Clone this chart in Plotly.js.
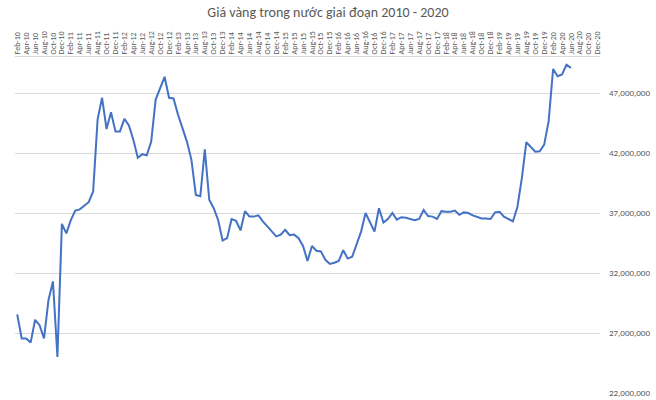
<!DOCTYPE html>
<html>
<head>
<meta charset="utf-8">
<script src="https://cdn.plot.ly/plotly-3.0.1.min.js"></script>
<style>
  html, body { margin: 0; padding: 0; background: #fff; }
  #chart { width: 656px; height: 400px; }
</style>
</head>
<body>
<div id="chart"></div>
<script>
// month names and years used for the category labels (Feb-10 .. Dec-20)
var monthNames = ['Jan', 'Feb', 'Mar', 'Apr', 'May', 'Jun', 'Jul', 'Aug', 'Sep', 'Oct', 'Nov', 'Dec'];
var years = ['10', '11', '12', '13', '14', '15', '16', '17', '18', '19', '20'];

var months = [];
years.forEach(function (y) {
  monthNames.forEach(function (m) { months.push(m + '-' + y); });
});
months = months.slice(1); // series starts in Feb-10

// monthly gold price (VND), Feb-10 .. Jun-20
var price = [
  28.55e6, 26.55e6, 26.55e6, 26.2e6, 28.1e6, 27.65e6, 26.55e6, 29.75e6, 31.3e6, 25.0e6, 36.1e6,
  35.3e6, 36.4e6, 37.2e6, 37.3e6, 37.6e6, 37.9e6, 38.8e6, 44.8e6, 46.6e6, 44.0e6, 45.4e6, 43.8e6,
  43.8e6, 44.85e6, 44.3e6, 43.1e6, 41.6e6, 41.9e6, 41.8e6, 42.95e6, 46.45e6, 47.4e6, 48.35e6, 46.6e6,
  46.55e6, 45.2e6, 44.1e6, 42.95e6, 41.45e6, 38.5e6, 38.4e6, 42.3e6, 38.1e6, 37.4e6, 36.4e6, 34.7e6,
  34.9e6, 36.5e6, 36.35e6, 35.55e6, 37.15e6, 36.7e6, 36.7e6, 36.8e6, 36.3e6, 35.9e6, 35.45e6, 35.05e6,
  35.2e6, 35.6e6, 35.15e6, 35.2e6, 34.9e6, 34.25e6, 33.0e6, 34.25e6, 33.85e6, 33.8e6, 33.1e6, 32.75e6,
  32.85e6, 33.0e6, 33.9e6, 33.2e6, 33.35e6, 34.5e6, 35.45e6, 37.0e6, 36.2e6, 35.45e6, 37.4e6, 36.2e6,
  36.5e6, 37.0e6, 36.45e6, 36.65e6, 36.6e6, 36.5e6, 36.4e6, 36.5e6, 37.25e6, 36.75e6, 36.7e6, 36.5e6,
  37.15e6, 37.1e6, 37.1e6, 37.2e6, 36.85e6, 37.05e6, 37.0e6, 36.8e6, 36.65e6, 36.55e6, 36.55e6, 36.5e6,
  37.05e6, 37.1e6, 36.7e6, 36.5e6, 36.3e6, 37.5e6, 39.9e6, 42.9e6, 42.5e6, 42.1e6, 42.15e6, 42.7e6,
  44.65e6, 49.0e6, 48.4e6, 48.55e6, 49.35e6, 49.1e6
];

var tickLabels = months.filter(function (_, i) { return i % 2 === 0; });

var trace = {
  x: months.slice(0, price.length),
  y: price,
  type: 'scatter',
  mode: 'lines',
  line: { color: '#4472C4', width: 2 },
  hoverinfo: 'x+y'
};

var font = 'Calibri, Carlito, Lato, sans-serif';

var layout = {
  width: 656,
  height: 400,
  margin: { l: 15, r: 56, t: 57, b: 7 },
  paper_bgcolor: '#fff',
  plot_bgcolor: '#fff',
  showlegend: false,
  title: {
    text: 'Giá vàng trong nước giai đoạn 2010 - 2020',
    font: { family: font, size: 14, color: '#595959' },
    x: 0.5,
    xanchor: 'center',
    y: 0.97,
    yanchor: 'middle'
  },
  xaxis: {
    type: 'category',
    categoryorder: 'array',
    categoryarray: months,
    range: [-0.5, months.length - 0.5],
    side: 'top',
    tickmode: 'array',
    tickvals: tickLabels,
    ticktext: tickLabels,
    tickangle: -90,
    tickfont: { family: font, size: 8, color: '#595959' },
    ticks: '',
    showgrid: false,
    showline: true,
    linecolor: '#d9d9d9',
    linewidth: 1,
    zeroline: false,
    fixedrange: true
  },
  yaxis: {
    side: 'right',
    range: [22e6, 50e6],
    tickmode: 'linear',
    tick0: 22e6,
    dtick: 5e6,
    tickformat: ',d',
    tickfont: { family: font, size: 9, color: '#595959' },
    ticklabelstandoff: 8,
    ticks: '',
    showgrid: true,
    gridcolor: '#d9d9d9',
    gridwidth: 1,
    showline: false,
    zeroline: false,
    fixedrange: true
  }
};

Plotly.newPlot('chart', [trace], layout, { displayModeBar: false, staticPlot: true });
</script>
</body>
</html>
